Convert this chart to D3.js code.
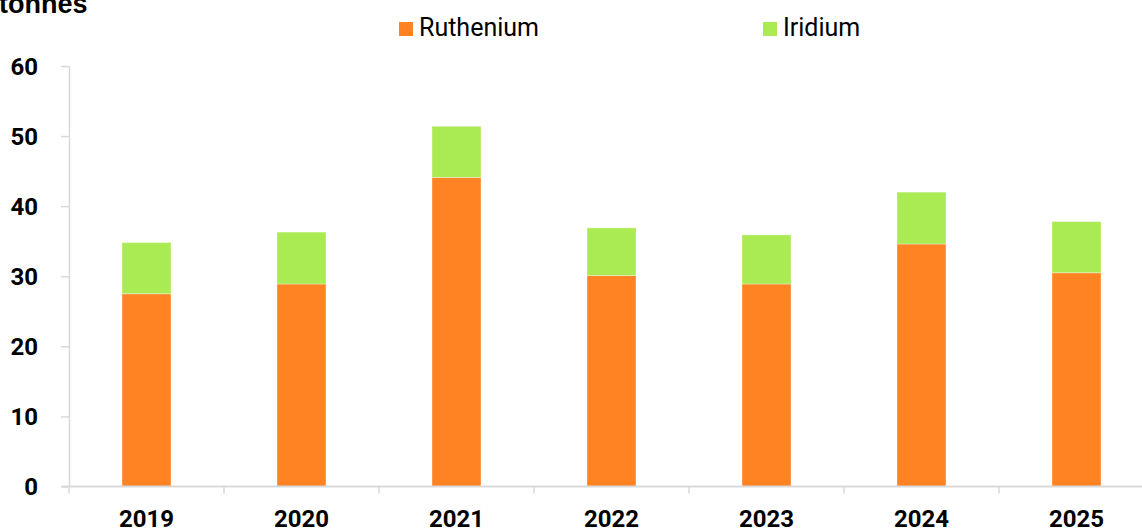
<!DOCTYPE html>
<html>
<head>
<meta charset="utf-8">
<script src="https://cdn.jsdelivr.net/npm/d3@7"></script>
<style>
  html, body { margin: 0; padding: 0; background: #ffffff; }
  svg { display: block; }
</style>
</head>
<body>
<svg id="chart" width="1142" height="529"></svg>
<script>
// Annual demand, tonnes
const years = ["2019", "2020", "2021", "2022", "2023", "2024", "2025"];
const ruthenium = [27.5, 28.9, 44.1, 30.1, 28.9, 34.6, 30.5];
const iridium = [7.3, 7.4, 7.3, 6.8, 7.0, 7.4, 7.3];
const seriesNames = ["Ruthenium", "Iridium"];
const seriesColors = ["#ff8323", "#aaeb53"];
const yTicks = [0, 10, 20, 30, 40, 50, 60];

const svg = d3.select("#chart");
const W = 1142, H = 529;

const x0 = 69, x1 = 69 + 155 * years.length;
const yBase = 486.5, yTop = 66;

const x = d3.scaleBand()
  .domain(years)
  .range([x0, x1])
  .paddingInner(0.684)
  .paddingOuter(0.342);

const y = d3.scaleLinear().domain([0, 60]).range([yBase, yTop]);

const rows = years.map((yr, i) => ({ year: yr, Ruthenium: ruthenium[i], Iridium: iridium[i] }));
const stack = d3.stack().keys(seriesNames)(rows);
const color = d3.scaleOrdinal().domain(seriesNames).range(seriesColors);

// Stacked bars
svg.append("g")
  .selectAll("g")
  .data(stack)
  .join("g")
  .attr("fill", d => color(d.key))
  .selectAll("rect")
  .data(d => d)
  .join("rect")
  .attr("x", d => x(d.data.year))
  .attr("width", x.bandwidth())
  .attr("y", d => y(d[1]))
  .attr("height", d => y(d[0]) - y(d[1]))
  .attr("stroke", "rgba(255,255,255,0.35)")
  .attr("stroke-width", 1);

// Y axis
const yAxis = svg.append("g")
  .attr("transform", `translate(${x0},0)`)
  .call(d3.axisLeft(y).tickValues(yTicks).tickSize(8).tickPadding(23).tickSizeOuter(0));
yAxis.select(".domain").attr("stroke", "#d9d9d9").attr("stroke-width", 1.5);
yAxis.selectAll(".tick line").attr("stroke", "#d9d9d9").attr("stroke-width", 1.5);
yAxis.selectAll(".tick text")
  .attr("fill", "#000")
  .style("font-family", "Roboto, sans-serif")
  .style("font-weight", "700")
  .style("font-size", "24px")
  .attr("dy", "0.35em");

// X axis: baseline with boundary ticks between categories
const xg = svg.append("g");
xg.append("line")
  .attr("x1", x0 - 7).attr("x2", W)
  .attr("y1", yBase).attr("y2", yBase)
  .attr("stroke", "#d9d9d9").attr("stroke-width", 2);
const boundaries = years.map(yr => x(yr) - x.step() * 0.342).concat([x1]);
xg.selectAll("line.b")
  .data(boundaries)
  .join("line")
  .attr("class", "b")
  .attr("x1", d => d).attr("x2", d => d)
  .attr("y1", yBase).attr("y2", yBase + 7)
  .attr("stroke", "#d9d9d9").attr("stroke-width", 1.5);
xg.selectAll("text")
  .data(years)
  .join("text")
  .attr("x", d => x(d) + x.bandwidth() / 2)
  .attr("y", 527)
  .attr("text-anchor", "middle")
  .style("font-family", "Roboto, sans-serif")
  .style("font-weight", "700")
  .style("font-size", "24px")
  .attr("fill", "#000")
  .text(d => d);

// Unit label
svg.append("text")
  .attr("x", -1)
  .attr("y", 13)
  .style("font-family", "'Liberation Sans', Arial, sans-serif")
  .style("font-weight", "700")
  .style("font-size", "27px")
  .attr("fill", "#000")
  .text("tonnes");

// Legend
const legendX = [399, 763];
const legend = svg.append("g")
  .selectAll("g")
  .data(seriesNames)
  .join("g")
  .attr("transform", (d, i) => `translate(${legendX[i]},22)`);
legend.append("rect")
  .attr("width", 14).attr("height", 14)
  .attr("fill", d => color(d));
legend.append("text")
  .attr("x", 20)
  .attr("y", 13.5)
  .style("font-family", "Roboto, sans-serif")
  .style("font-size", "25px")
  .attr("fill", "#000")
  .text(d => d);
</script>
</body>
</html>
